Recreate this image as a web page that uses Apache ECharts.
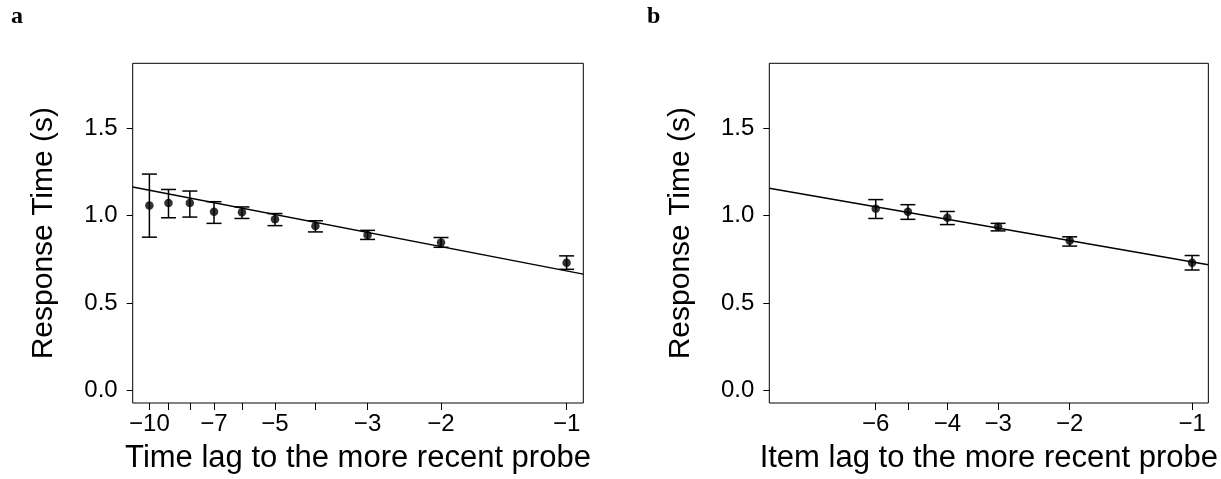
<!DOCTYPE html>
<html>
<head>
<meta charset="utf-8">
<script src="https://cdn.jsdelivr.net/npm/echarts@6/dist/echarts.min.js"></script>
<style>
html,body{margin:0;padding:0;background:#fff;}
#chart{width:1221px;height:479px;}
</style>
</head>
<body>
<div id="chart"></div>
<script>
// Panel a: time lag (absolute value of lag)
const lagA = [10, 9, 8, 7, 6, 5, 4, 3, 2, 1];
const rtA  = [1.058, 1.073, 1.073, 1.022, 1.020, 0.979, 0.941, 0.890, 0.847, 0.730];
const loA  = [0.877, 0.988, 0.992, 0.956, 0.984, 0.943, 0.907, 0.864, 0.819, 0.693];
const hiA  = [1.238, 1.150, 1.141, 1.080, 1.050, 1.012, 0.971, 0.916, 0.875, 0.770];
const fitA = [0.684, 0.462];   // intercept, slope per log10(|lag|)

// Panel b: item lag
const lagB = [6, 5, 4, 3, 2, 1];
const rtB  = [1.039, 1.022, 0.988, 0.936, 0.856, 0.730];
const loB  = [0.984, 0.979, 0.949, 0.913, 0.826, 0.689];
const hiB  = [1.092, 1.063, 1.024, 0.956, 0.879, 0.772];
const fitB = [0.735, 0.406];

const ticksA  = [1, 2, 3, 4, 5, 6, 7, 8, 9, 10];
const labelsA = [1, 2, 3, 5, 7, 10];
const ticksB  = [1, 2, 3, 4, 5, 6];
const labelsB = [1, 2, 3, 4, 6];
const yTicks  = [0, 0.5, 1.0, 1.5];
const xRange  = [1, 10];
const yRange  = [0, 1.8];

const xMin = Math.pow(10, -0.04 * Math.log10(xRange[1] / xRange[0])) * xRange[0];
const xMax = Math.pow(10, 0.04 * Math.log10(xRange[1] / xRange[0])) * xRange[1];
const yPad = 0.04 * (yRange[1] - yRange[0]);

const FONT = 'Liberation Sans, Arial, sans-serif';
const chart = echarts.init(document.getElementById('chart'), null, {renderer: 'canvas'});

function xAxisCfg(gi, ticks, labels, name) {
  return {
    type: 'log', logBase: 10, gridIndex: gi, inverse: true,
    min: xMin, max: xMax,
    axisLine: {show: false, onZero: false},
    splitLine: {show: false},
    minorTick: {show: false},
    axisTick: {show: true, length: 7, customValues: ticks, lineStyle: {color: '#000', width: 1}},
    axisLabel: {show: true, customValues: labels, margin: 9, color: '#000', fontSize: 24, fontFamily: FONT,
      formatter: v => '\u2212' + Math.round(v)},
    name: name, nameLocation: 'middle', nameGap: 40,
    nameTextStyle: {color: '#000', fontSize: 31, fontFamily: FONT}
  };
}
function yAxisCfg(gi) {
  return {
    type: 'value', gridIndex: gi,
    min: yRange[0] - yPad, max: yRange[1] + yPad,
    axisLine: {show: false, onZero: false},
    splitLine: {show: false},
    axisTick: {show: true, length: 6, customValues: yTicks, lineStyle: {color: '#000', width: 1}},
    axisLabel: {show: true, customValues: yTicks, margin: 15, color: '#000', fontSize: 24, fontFamily: FONT,
      formatter: v => v.toFixed(1)},
    name: 'Response Time (s)', nameLocation: 'middle', nameGap: 74, nameRotate: 90,
    nameTextStyle: {color: '#000', fontSize: 30, fontFamily: FONT}
  };
}
function errSeries(ai, lags, lo, hi) {
  return {
    type: 'custom', xAxisIndex: ai, yAxisIndex: ai,
    data: lags.map((l, i) => [l, lo[i], hi[i]]),
    encode: {x: 0, y: [1, 2]},
    renderItem: function (params, api) {
      const x = api.value(0);
      const pLo = api.coord([x, api.value(1)]);
      const pHi = api.coord([x, api.value(2)]);
      const w = 7.5;
      const st = {stroke: '#000', lineWidth: 1.5};
      return {type: 'group', children: [
        {type: 'line', shape: {x1: pLo[0], y1: pLo[1], x2: pHi[0], y2: pHi[1]}, style: st},
        {type: 'line', shape: {x1: pLo[0] - w, y1: pLo[1], x2: pLo[0] + w, y2: pLo[1]}, style: st},
        {type: 'line', shape: {x1: pHi[0] - w, y1: pHi[1], x2: pHi[0] + w, y2: pHi[1]}, style: st}
      ]};
    },
    z: 3
  };
}
function ptSeries(ai, lags, rt) {
  return {
    type: 'scatter', xAxisIndex: ai, yAxisIndex: ai,
    data: lags.map((l, i) => [l, rt[i]]),
    symbol: 'circle', symbolSize: 8.5,
    itemStyle: {color: '#000'}, z: 4
  };
}
function fitSeries(ai, fit) {
  return {
    type: 'line', xAxisIndex: ai, yAxisIndex: ai,
    data: [xMax, xMin].map(x => [x, fit[0] + fit[1] * Math.log10(x)]),
    showSymbol: false, symbol: 'none', clip: true,
    lineStyle: {color: '#000', width: 1.5}, z: 2
  };
}

chart.setOption({
  animation: false,
  backgroundColor: '#fff',
  grid: [
    {left: 132.7, top: 63.3, width: 450.6, height: 345, show: true, borderColor: '#000', borderWidth: 1, backgroundColor: 'transparent', containLabel: false},
    {left: 769.3, top: 63.3, width: 450.6, height: 345, show: true, borderColor: '#000', borderWidth: 1, backgroundColor: 'transparent', containLabel: false}
  ],
  xAxis: [
    xAxisCfg(0, ticksA, labelsA, 'Time lag to the more recent probe'),
    xAxisCfg(1, ticksB, labelsB, 'Item lag to the more recent probe')
  ],
  yAxis: [yAxisCfg(0), yAxisCfg(1)],
  graphic: [
    {type: 'text', left: 11, top: 5, style: {text: 'a', font: 'bold 24px "Liberation Serif", "DejaVu Serif", serif', fill: '#000'}},
    {type: 'text', left: 647, top: 5, style: {text: 'b', font: 'bold 24px "Liberation Serif", "DejaVu Serif", serif', fill: '#000'}}
  ],
  series: [
    fitSeries(0, fitA), errSeries(0, lagA, loA, hiA), ptSeries(0, lagA, rtA),
    fitSeries(1, fitB), errSeries(1, lagB, loB, hiB), ptSeries(1, lagB, rtB)
  ]
});
</script>
</body>
</html>
